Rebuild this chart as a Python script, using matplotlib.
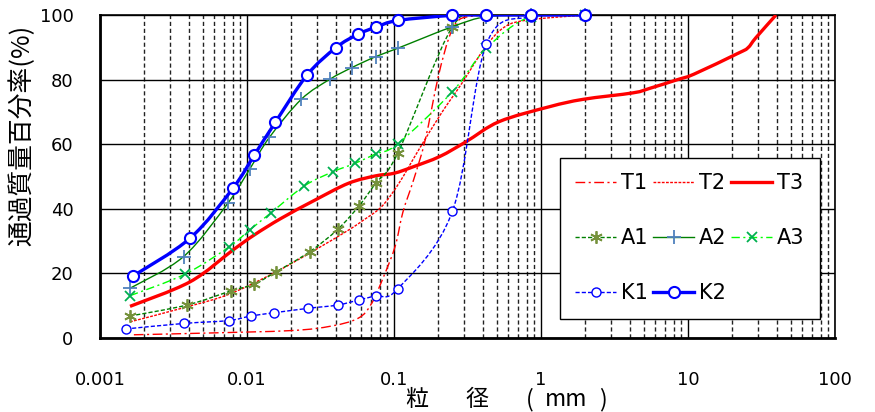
import matplotlib
matplotlib.use('Agg')
import matplotlib.pyplot as plt
import numpy as np
from matplotlib.path import Path
from matplotlib.patches import PathPatch
from matplotlib.lines import Line2D
from matplotlib.ticker import LogLocator, NullFormatter

# grain size (mm) and percent passing
t1_x = [0.0017, 0.005, 0.02, 0.0375, 0.057, 0.07, 0.085, 0.102, 0.115, 0.136, 0.163, 0.2, 0.238, 0.277, 0.35, 0.425, 0.85, 2.0]
t1_y = [1.0, 1.5, 2.3, 3.7, 6.1, 10.5, 19.0, 28.5, 39.0, 49.0, 61.3, 80.9, 93.3, 98.5, 99.7, 100, 100, 100]

t2_x = [0.0016, 0.0038, 0.0076, 0.0158, 0.0289, 0.049, 0.062, 0.0825, 0.108, 0.147, 0.21, 0.29, 0.42, 0.57, 0.83, 2.0]
t2_y = [5.0, 9.5, 13.6, 20.5, 27.2, 33.4, 36.5, 40.7, 47.9, 58.2, 69.6, 78.9, 90.2, 96.4, 98.5, 100]

t3_x = [0.0016, 0.0041, 0.008, 0.0112, 0.017, 0.029, 0.049, 0.075, 0.1, 0.135, 0.205, 0.31, 0.52, 1.14, 1.94, 4.23, 5.5, 8.5, 11, 21.8, 25.5, 29.0, 39.7]
t3_y = [9.8, 17.4, 27.2, 31.9, 37.0, 42.7, 47.9, 50.2, 51.0, 53.0, 56.2, 60.8, 67.0, 71.6, 73.9, 75.9, 77.3, 80.0, 81.7, 88.1, 89.8, 93.0, 100]

a1_x = [0.0016, 0.0039, 0.0078, 0.0112, 0.0158, 0.0267, 0.0413, 0.0578, 0.075, 0.106, 0.25, 0.425, 0.85, 2.0]
a1_y = [6.8, 10.2, 14.6, 16.7, 20.5, 26.7, 33.6, 40.9, 47.9, 57.2, 96.4, 100, 100, 100]

a2_x = [0.0016, 0.0037, 0.0074, 0.0104, 0.0142, 0.0234, 0.0366, 0.0516, 0.075, 0.106, 0.25, 0.425, 0.85, 2.0]
a2_y = [15.4, 25.2, 41.7, 52.2, 62.1, 73.9, 80.1, 83.7, 87.1, 89.7, 96.4, 99.5, 100, 100]

a3_x = [0.0016, 0.0038, 0.0076, 0.0104, 0.0146, 0.0246, 0.0386, 0.0545, 0.075, 0.106, 0.25, 0.425, 0.85, 2.0]
a3_y = [13.1, 19.8, 28.3, 33.4, 38.8, 47.1, 51.5, 54.1, 57.0, 60.1, 76.3, 89.7, 99.5, 100]

k1_x = [0.0015, 0.0037, 0.0075, 0.0106, 0.0152, 0.0262, 0.0413, 0.0578, 0.075, 0.106, 0.25, 0.425, 0.85, 2.0]
k1_y = [2.8, 4.5, 5.4, 6.8, 7.8, 9.2, 10.2, 11.8, 13.1, 15.2, 39.3, 91.0, 99.5, 100]

k2_x = [0.00168, 0.0041, 0.008, 0.0112, 0.0156, 0.0256, 0.0403, 0.0566, 0.075, 0.106, 0.25, 0.425, 0.85, 2.0]
k2_y = [19.2, 30.9, 46.3, 56.6, 66.8, 81.4, 89.9, 94.0, 96.2, 98.3, 99.9, 100, 100, 100]

x_ticks = [0.001, 0.01, 0.1, 1, 10, 100]
x_tick_labels = ['0.001', '0.01', '0.1', '1', '10', '100']
y_ticks = [0, 20, 40, 60, 80, 100]

cjk = ['Noto Sans CJK JP', 'DejaVu Sans']


# smoothed line like excel (catmull-rom in log-x space)
def smooth_path(x, y):
    u = np.log10(x)
    v = np.asarray(y, float)
    n = len(u)
    verts = [(u[0], v[0])]
    codes = [Path.MOVETO]
    for i in range(n - 1):
        i0 = max(i - 1, 0)
        i3 = min(i + 2, n - 1)
        c1 = (u[i] + (u[i + 1] - u[i0]) / 6, v[i] + (v[i + 1] - v[i0]) / 6)
        c2 = (u[i + 1] - (u[i3] - u[i]) / 6, v[i + 1] - (v[i3] - v[i]) / 6)
        verts += [c1, c2, (u[i + 1], v[i + 1])]
        codes += [Path.CURVE4] * 3
    verts = np.array(verts)
    verts[:, 0] = 10 ** verts[:, 0]
    return Path(verts, codes)


series = [
    ('T1', t1_x, t1_y, dict(color='#FF0000', lw=1.0, ls=(0, (7, 2.5, 1.5, 2.5))), None),
    ('T2', t2_x, t2_y, dict(color='#FF0000', lw=1.0, ls=(0, (2, 1))), None),
    ('T3', t3_x, t3_y, dict(color='#FF0000', lw=2.4, ls='-'), None),
    ('A1', a1_x, a1_y, dict(color='#008000', lw=1.0, ls=(0, (3, 1.5))),
     dict(marker=(6, 2, 0), ms=9, mec='#76923C', mfc='none', mew=1.3)),
    ('A2', a2_x, a2_y, dict(color='#008000', lw=1.0, ls='-'),
     dict(marker='+', ms=10, mec='#4F81BD', mfc='none', mew=1.3)),
    ('A3', a3_x, a3_y, dict(color='#00FF00', lw=1.0, ls=(0, (6, 2.5, 1.5, 2.5))),
     dict(marker='x', ms=7, mec='#00B050', mfc='none', mew=1.3)),
    ('K1', k1_x, k1_y, dict(color='#0000FF', lw=1.0, ls=(0, (3, 1.5))),
     dict(marker='o', ms=6.5, mec='#0000FF', mfc='white', mew=1.0)),
    ('K2', k2_x, k2_y, dict(color='#0000FF', lw=2.4, ls='-'),
     dict(marker='o', ms=8, mec='#0000FF', mfc='white', mew=1.5)),
]

fig = plt.figure(figsize=(8.75, 4.12), dpi=100)
ax = fig.add_axes([100 / 875, 1 - 338 / 412, 735 / 875, 323 / 412])
ax.set_xscale('log')
ax.set_xlim(0.001, 100)
ax.set_ylim(0, 100)

# grid
ax.xaxis.set_minor_locator(LogLocator(base=10, subs=np.arange(2, 10)))
ax.xaxis.set_minor_formatter(NullFormatter())
ax.grid(True, which='major', axis='both', color='black', lw=1.0, ls='-')
ax.grid(True, which='minor', axis='x', color='#222222', lw=1.0, ls=(0, (3, 2)))
ax.set_axisbelow(True)

handles = {}
z = 3
for name, x, y, lk, mk in series:
    patch = PathPatch(smooth_path(x, y), fill=False, edgecolor=lk['color'],
                      lw=lk['lw'], linestyle=lk['ls'], capstyle='butt', zorder=z)
    ax.add_patch(patch)
    if mk is not None:
        ax.plot(x, y, ls='none', clip_on=False, zorder=z + 0.5, **mk)
        handles[name] = Line2D([], [], color=lk['color'], lw=lk['lw'], ls=lk['ls'], **mk)
    else:
        handles[name] = Line2D([], [], color=lk['color'], lw=lk['lw'], ls=lk['ls'])
    z += 1

ax.set_xticks(x_ticks)
ax.set_xticklabels(x_tick_labels)
ax.set_yticks(y_ticks)
ax.tick_params(axis='x', which='both', length=0, pad=24, labelsize=13)
ax.tick_params(axis='y', which='both', length=0, pad=19, labelsize=13)

for s in ['left', 'bottom']:
    ax.spines[s].set_linewidth(2.0)
for s in ['top', 'right']:
    ax.spines[s].set_linewidth(1.2)

order = ['T1', 'A1', 'K1', 'T2', 'A2', 'K2', 'T3', 'A3']
leg = ax.legend([handles[k] for k in order], order, ncol=3, loc='lower left',
                bbox_to_anchor=(0.6255, 0.0588), borderaxespad=0, fontsize=15,
                frameon=True, fancybox=False, edgecolor='black', framealpha=1,
                handlelength=1.95, handletextpad=0.25, columnspacing=0.22,
                labelspacing=1.68, borderpad=0.75)
leg.get_frame().set_linewidth(1.0)
leg.set_zorder(20)

fig.text(22 / 875, 1 - 135 / 412, '通過質量百分率(%)', rotation=90, ha='center', va='center',
         fontsize=18.5, family=cjk)

# x-axis title, spread out like the original
xlabel_parts = ['粒', '径', '(', 'mm', ')']
xlabel_pos = [417, 477, 530, 566, 603]
for t, px in zip(xlabel_parts, xlabel_pos):
    fig.text(px / 875, 1 - 400 / 412, t, ha='center', va='center', fontsize=16.5, family=cjk)

fig.savefig('out.png', dpi=100)
